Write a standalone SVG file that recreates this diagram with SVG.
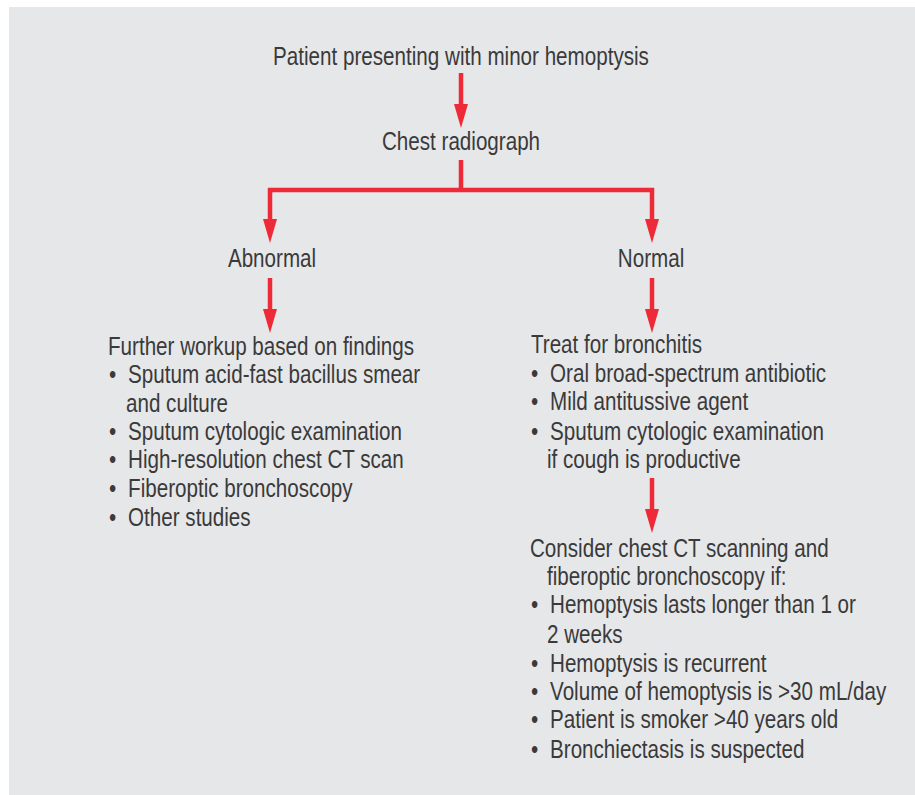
<svg xmlns="http://www.w3.org/2000/svg" width="915" height="795" viewBox="0 0 915 795">
<style>
text{font-family:"Liberation Sans",Arial,sans-serif;font-size:25px;fill:#3a3a3a}
.c{text-anchor:middle}
.ln{fill:none;stroke:#ee2a38;stroke-width:4.5}
</style>
<defs>
<marker id="ah" markerUnits="userSpaceOnUse" markerWidth="24" markerHeight="14" viewBox="0 -7 24 14" refX="0" refY="0" orient="auto" overflow="visible">
<path d="M0,-7 L24,0 L0,7 Z" fill="#ee2a38"/>
</marker>
</defs>
<rect x="0" y="0" width="915" height="795" fill="#ffffff"/>
<rect x="9" y="7" width="906" height="788" fill="#e6e7e9"/>
<g id="connectors">
<line class="ln" x1="461" y1="73" x2="461" y2="104" marker-end="url(#ah)"/>
<path class="ln" d="M461,160 V190 M268,190 H654 M270,188 V219" marker-end="url(#ah)"/>
<line class="ln" x1="652" y1="188" x2="652" y2="219" marker-end="url(#ah)"/>
<line class="ln" x1="270" y1="278" x2="270" y2="309" marker-end="url(#ah)"/>
<line class="ln" x1="652" y1="278" x2="652" y2="309" marker-end="url(#ah)"/>
<line class="ln" x1="652" y1="478" x2="652" y2="509" marker-end="url(#ah)"/>
</g>
<g id="start"><g transform="scale(0.825 1)"><text class="c" x="558.8" y="65">Patient presenting with minor hemoptysis</text></g></g>
<g id="radiograph"><g transform="scale(0.825 1)"><text class="c" x="558.8" y="150">Chest radiograph</text></g></g>
<g id="abnormal"><g transform="scale(0.825 1)"><text class="c" x="329.7" y="267">Abnormal</text></g></g>
<g id="normal"><g transform="scale(0.825 1)"><text class="c" x="789.1" y="267">Normal</text></g></g>
<g id="workup"><g transform="scale(0.825 1)">
<text x="130.9" y="355">Further workup based on findings</text>
<text x="132.1" y="383">•</text><text x="155.2" y="383">Sputum acid-fast bacillus smear</text>
<text x="152.7" y="412">and culture</text>
<text x="132.1" y="440">•</text><text x="155.2" y="440">Sputum cytologic examination</text>
<text x="132.1" y="468">•</text><text x="155.2" y="468">High-resolution chest CT scan</text>
<text x="132.1" y="497">•</text><text x="155.2" y="497">Fiberoptic bronchoscopy</text>
<text x="132.1" y="526">•</text><text x="155.2" y="526">Other studies</text>
</g></g>
<g id="bronchitis"><g transform="scale(0.825 1)">
<text x="643.6" y="353">Treat for bronchitis</text>
<text x="643.6" y="382">•</text><text x="666.7" y="382">Oral broad-spectrum antibiotic</text>
<text x="643.6" y="410">•</text><text x="666.7" y="410">Mild antitussive agent</text>
<text x="643.6" y="440">•</text><text x="666.7" y="440">Sputum cytologic examination</text>
<text x="663.0" y="468">if cough is productive</text>
</g></g>
<g id="consider"><g transform="scale(0.825 1)">
<text x="642.4" y="557">Consider chest CT scanning and</text>
<text x="663.0" y="585">fiberoptic bronchoscopy if:</text>
<text x="643.6" y="613">•</text><text x="666.7" y="613">Hemoptysis lasts longer than 1 or</text>
<text x="663.0" y="643">2 weeks</text>
<text x="643.6" y="672">•</text><text x="666.7" y="672">Hemoptysis is recurrent</text>
<text x="643.6" y="700">•</text><text x="666.7" y="700">Volume of hemoptysis is &gt;30 mL/day</text>
<text x="643.6" y="728">•</text><text x="666.7" y="728">Patient is smoker &gt;40 years old</text>
<text x="643.6" y="758">•</text><text x="666.7" y="758">Bronchiectasis is suspected</text>
</g></g>
</svg>
